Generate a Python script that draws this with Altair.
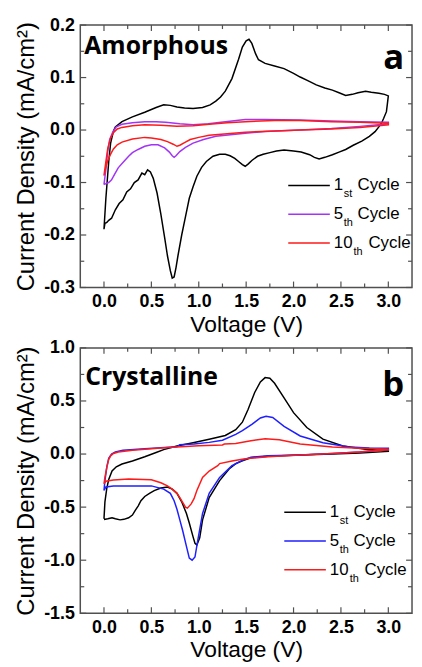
import altair as alt
import pandas as pd

# ---------------- Panel a (Amorphous) ----------------
a1_v = [0.00, 0.02, 0.05, 0.07, 0.10, 0.12, 0.19, 0.30, 0.43, 0.55, 0.63, 0.70, 0.77, 0.85, 0.94, 1.04, 1.12, 1.18,
        1.23, 1.28, 1.35, 1.42, 1.46, 1.50, 1.53, 1.56, 1.60, 1.63, 1.70, 1.80, 1.90, 2.00, 2.07, 2.15, 2.24, 2.33,
        2.41, 2.48, 2.55, 2.62, 2.68, 2.76, 2.82, 2.90, 2.96, 3.00,
        2.99, 2.98, 2.95, 2.93, 2.90, 2.86, 2.80, 2.72, 2.63, 2.55, 2.48, 2.41, 2.33, 2.27, 2.22, 2.17, 2.08, 2.00,
        1.90, 1.82, 1.75, 1.68, 1.62, 1.56, 1.52, 1.49, 1.46, 1.42, 1.38, 1.33, 1.28, 1.22, 1.15, 1.08, 1.03, 0.98,
        0.94, 0.90, 0.86, 0.82, 0.78, 0.76, 0.74, 0.72, 0.70, 0.67, 0.64, 0.60, 0.56, 0.52, 0.49, 0.46, 0.43, 0.40,
        0.36, 0.32, 0.28, 0.24, 0.20, 0.16, 0.12, 0.08, 0.05, 0.03, 0.01, 0.00]
a1_i = [-0.189, -0.130, -0.060, -0.025, -0.002, 0.006, 0.016, 0.025, 0.034, 0.043, 0.048, 0.047, 0.044, 0.042, 0.041,
        0.043, 0.048, 0.055, 0.063, 0.074, 0.098, 0.135, 0.158, 0.170, 0.173, 0.165, 0.145, 0.134, 0.127, 0.122, 0.117,
        0.108, 0.101, 0.094, 0.086, 0.080, 0.076, 0.071, 0.066, 0.068, 0.071, 0.074, 0.072, 0.070, 0.068, 0.065,
        0.050, 0.035, 0.022, 0.014, 0.006, -0.003, -0.012, -0.021, -0.029, -0.037, -0.042, -0.047, -0.052, -0.055,
        -0.052, -0.047, -0.042, -0.040, -0.038, -0.040, -0.043, -0.046, -0.050, -0.058, -0.065, -0.069, -0.066,
        -0.060, -0.054, -0.049, -0.046, -0.046, -0.050, -0.060, -0.071, -0.088, -0.108, -0.130, -0.165, -0.200,
        -0.240, -0.262, -0.280, -0.282, -0.268, -0.240, -0.205, -0.160, -0.120, -0.092, -0.080, -0.076, -0.085,
        -0.082, -0.095, -0.100, -0.112, -0.118, -0.133, -0.140, -0.152, -0.168, -0.172, -0.176, -0.178, -0.189]

a5_v = [0.00, 0.02, 0.04, 0.06, 0.09, 0.13, 0.19, 0.30, 0.43, 0.55, 0.65, 0.80, 0.94, 1.10, 1.28, 1.49, 1.70, 2.07,
        2.40, 2.70, 3.00,
        3.00, 2.70, 2.40, 2.07, 1.70, 1.49, 1.18, 1.05, 0.94, 0.86, 0.80, 0.76, 0.74, 0.72, 0.69, 0.64, 0.57, 0.50,
        0.43, 0.36, 0.30, 0.26, 0.20, 0.15, 0.11, 0.08, 0.05, 0.02, 0.00]
a5_i = [-0.104, -0.075, -0.040, -0.018, -0.005, 0.006, 0.011, 0.014, 0.016, 0.016, 0.015, 0.012, 0.010, 0.012, 0.016,
        0.020, 0.020, 0.019, 0.017, 0.016, 0.015,
        0.012, 0.007, 0.003, 0.000, -0.003, -0.006, -0.012, -0.018, -0.025, -0.033, -0.041, -0.049, -0.052, -0.049,
        -0.042, -0.034, -0.028, -0.028, -0.031, -0.037, -0.043, -0.050, -0.062, -0.072, -0.085, -0.095, -0.100,
        -0.102, -0.104]

a10_v = [0.00, 0.02, 0.04, 0.07, 0.10, 0.14, 0.19, 0.30, 0.43, 0.60, 0.77, 0.94, 1.11, 1.30, 1.49, 1.80, 2.07, 2.40,
         2.70, 3.00,
         3.00, 2.70, 2.40, 2.07, 1.80, 1.49, 1.11, 1.00, 0.91, 0.85, 0.80, 0.77, 0.73, 0.67, 0.60, 0.50, 0.43, 0.30,
         0.19, 0.14, 0.10, 0.07, 0.04, 0.02, 0.00]
a10_i = [-0.087, -0.060, -0.035, -0.015, -0.005, 0.002, 0.005, 0.008, 0.010, 0.009, 0.007, 0.008, 0.011, 0.014,
         0.016, 0.018, 0.018, 0.016, 0.015, 0.013,
         0.010, 0.005, 0.002, 0.000, -0.002, -0.004, -0.010, -0.014, -0.018, -0.024, -0.029, -0.031, -0.027, -0.022,
         -0.018, -0.015, -0.014, -0.017, -0.023, -0.028, -0.036, -0.046, -0.058, -0.070, -0.087]

# ---------------- Panel b (Crystalline) ----------------
b1_v = [0.00, 0.01, 0.03, 0.05, 0.085, 0.13, 0.19, 0.30, 0.43, 0.55, 0.63, 0.77, 0.94, 1.11, 1.28, 1.39, 1.46, 1.52,
        1.59, 1.65, 1.70, 1.75, 1.80, 1.90, 2.00, 2.14, 2.31, 2.52, 2.76, 3.00,
        3.00, 2.70, 2.41, 2.07, 1.73, 1.55, 1.46, 1.39, 1.32, 1.22, 1.11, 1.04, 1.01, 0.98, 0.96, 0.94, 0.90, 0.87,
        0.82, 0.77, 0.72, 0.67, 0.60, 0.53, 0.48, 0.43, 0.39, 0.36, 0.33, 0.30, 0.26, 0.21, 0.17, 0.12, 0.085, 0.04,
        0.00]
b1_i = [-0.610, -0.450, -0.320, -0.240, -0.160, -0.120, -0.094, -0.065, -0.025, 0.015, 0.042, 0.076, 0.107, 0.140,
        0.175, 0.230, 0.300, 0.420, 0.580, 0.680, 0.720, 0.715, 0.667, 0.530, 0.390, 0.250, 0.140, 0.076, 0.046, 0.030,
        0.025, 0.010, 0.000, -0.010, -0.020, -0.035, -0.063, -0.090, -0.140, -0.250, -0.410, -0.620, -0.790, -0.856,
        -0.840, -0.780, -0.650, -0.560, -0.450, -0.370, -0.330, -0.310, -0.320, -0.345, -0.370, -0.400, -0.440,
        -0.490, -0.530, -0.575, -0.600, -0.615, -0.620, -0.610, -0.600, -0.610, -0.617]

b5_v = [0.00, 0.01, 0.03, 0.05, 0.08, 0.12, 0.20, 0.43, 0.60, 0.77, 0.80, 0.95, 1.11, 1.25, 1.39, 1.46, 1.56, 1.65,
        1.71, 1.78, 1.90, 2.07, 2.31, 2.59, 2.80, 3.00,
        3.00, 2.70, 2.41, 2.07, 1.73, 1.55, 1.46, 1.35, 1.22, 1.11, 1.04, 0.99, 0.96, 0.93, 0.90, 0.87, 0.83, 0.80,
        0.77, 0.74, 0.70, 0.63, 0.50, 0.26, 0.10, 0.02, 0.00]
b5_i = [-0.343, -0.250, -0.120, -0.040, 0.000, 0.020, 0.035, 0.050, 0.060, 0.068, 0.088, 0.095, 0.110, 0.130, 0.185,
        0.220, 0.280, 0.340, 0.356, 0.345, 0.260, 0.170, 0.107, 0.067, 0.058, 0.055,
        0.045, 0.020, 0.005, -0.008, -0.017, -0.030, -0.060, -0.110, -0.220, -0.370, -0.560, -0.810, -0.970, -1.000,
        -0.980, -0.870, -0.720, -0.620, -0.520, -0.440, -0.370, -0.330, -0.300, -0.300, -0.300, -0.310, -0.343]

b10_v = [0.00, 0.01, 0.03, 0.05, 0.07, 0.10, 0.15, 0.30, 0.43, 0.60, 0.77, 1.00, 1.25, 1.27, 1.39, 1.55, 1.70, 1.85,
         2.07, 2.41, 2.70, 3.00,
         3.00, 2.70, 2.41, 2.07, 1.73, 1.49, 1.35, 1.22, 1.20, 1.11, 1.04, 0.98, 0.95, 0.92, 0.88, 0.86, 0.84, 0.80,
         0.77, 0.72, 0.67, 0.60, 0.50, 0.26, 0.10, 0.02, 0.00]
b10_i = [-0.280, -0.220, -0.126, -0.050, -0.017, 0.005, 0.020, 0.035, 0.045, 0.057, 0.067, 0.078, 0.086, 0.095, 0.100,
         0.125, 0.145, 0.135, 0.095, 0.067, 0.055, 0.046,
         0.040, 0.020, 0.005, -0.008, -0.025, -0.045, -0.065, -0.090, -0.110, -0.160, -0.220, -0.343, -0.420, -0.470,
         -0.510, -0.500, -0.470, -0.410, -0.370, -0.330, -0.300, -0.270, -0.243, -0.234, -0.245, -0.256, -0.280]

cycles = ["1st", "5th", "10th"]
cycle_num = ["1", "5", "10"]
cycle_sub = ["st", "th", "th"]
colors_a = ["#000000", "#A234F5", "#FF1A1A"]
colors_b = ["#000000", "#1F1FFF", "#FF1A1A"]

x_major = [0.0, 0.5, 1.0, 1.5, 2.0, 2.5, 3.0]
x_minor = [0.25, 0.75, 1.25, 1.75, 2.25, 2.75]
ya_major = [-0.3, -0.2, -0.1, 0.0, 0.1, 0.2]
ya_minor = [-0.25, -0.15, -0.05, 0.05, 0.15]
yb_major = [-1.5, -1.0, -0.5, 0.0, 0.5, 1.0]
yb_minor = [-1.25, -0.75, -0.25, 0.25, 0.75]


def make_df(series):
    rows = []
    for name, (vs, cs) in zip(cycles, series):
        for k, (v, c) in enumerate(zip(vs, cs)):
            rows.append({"V": v, "I": c, "cycle": name, "k": k})
    return pd.DataFrame(rows)


df_a = make_df([(a1_v, a1_i), (a5_v, a5_i), (a10_v, a10_i)])
df_b = make_df([(b1_v, b1_i), (b5_v, b5_i), (b10_v, b10_i)])

W = 335
LABEL_EXPR = "datum.value < 0 ? '-' + format(-datum.value, '.1f') : format(datum.value, '.1f')"
TICK_COLOR = "#505050"


def panel(df, colors, ydom, ymajor, yminor, H, name, letter, name_x, name_y, letter_y, leg_x0, leg_y0):
    xs = alt.Scale(domain=[-0.25, 3.25], nice=False, zero=False)
    ys = alt.Scale(domain=ydom, nice=False, zero=False)
    x_axis = alt.Axis(orient="bottom", values=x_major, labelExpr=LABEL_EXPR, ticks=False, domain=False,
                      grid=False, labelPadding=5, title="Voltage (V)", titlePadding=3, titleFontSize=23)
    y_axis = alt.Axis(orient="left", values=ymajor, labelExpr=LABEL_EXPR, ticks=False, domain=False,
                      grid=False, labelPadding=6, title="Current Density (mA/cm²)", titlePadding=5,
                      titleFontSize=24)

    def xenc(field):
        return alt.X(field, type="quantitative", scale=xs, axis=x_axis)

    def yenc(field):
        return alt.Y(field, type="quantitative", scale=ys, axis=y_axis)

    lines = alt.Chart(df).mark_line(strokeWidth=1.5, clip=True).encode(
        x=xenc("V"), y=yenc("I"),
        color=alt.Color("cycle:N", scale=alt.Scale(domain=cycles, range=colors), legend=None),
        order="k:Q",
    )
    layers = [lines]
    # inside tick marks on all four sides, drawn from the tick value lists
    for vals_x, vals_y, L in ((x_major, ymajor, 6), (x_minor, yminor, 4)):
        dx = pd.DataFrame({"v": vals_x})
        dy = pd.DataFrame({"v": vals_y})
        for y0, y1 in ((H, H - L), (0, L)):
            layers.append(alt.Chart(dx).mark_rule(color=TICK_COLOR, strokeWidth=1.2).encode(
                x=xenc("v"), y=alt.value(y0), y2=alt.value(y1)))
        for x0, x1 in ((0, L), (W, W - L)):
            layers.append(alt.Chart(dy).mark_rule(color=TICK_COLOR, strokeWidth=1.2).encode(
                y=yenc("v"), x=alt.value(x0), x2=alt.value(x1)))
    layers.append(alt.Chart(pd.DataFrame({"t": [name]})).mark_text(
        font="Open Sans", fontWeight="bold", fontSize=25, align="left", baseline="alphabetic", color="black"
    ).encode(text="t:N", x=alt.value(name_x), y=alt.value(name_y)))
    layers.append(alt.Chart(pd.DataFrame({"t": [letter]})).mark_text(
        font="Open Sans", fontWeight="bold", fontSize=35, align="right", baseline="alphabetic", color="black"
    ).encode(text="t:N", x=alt.value(W - 8), y=alt.value(letter_y)))
    for r in range(3):
        yy = leg_y0 + 29 * r
        single = len(cycle_num[r]) == 1
        layers.append(alt.Chart(pd.DataFrame({"t": [cycles[r]]})).mark_rule(strokeWidth=1.5).encode(
            x=alt.value(leg_x0), x2=alt.value(leg_x0 + 42), y=alt.value(yy), color=alt.value(colors[r])))
        layers.append(alt.Chart(pd.DataFrame({"t": [cycle_num[r]]})).mark_text(
            font="Liberation Sans", fontSize=17, align="left", baseline="middle", color="black"
        ).encode(text="t:N", x=alt.value(leg_x0 + 46), y=alt.value(yy)))
        layers.append(alt.Chart(pd.DataFrame({"t": [cycle_sub[r]]})).mark_text(
            font="Liberation Sans", fontSize=11, align="left", baseline="middle", color="black"
        ).encode(text="t:N", x=alt.value(leg_x0 + (56 if single else 66)), y=alt.value(yy + 9)))
        layers.append(alt.Chart(pd.DataFrame({"t": ["Cycle"]})).mark_text(
            font="Liberation Sans", fontSize=17, align="left", baseline="middle", color="black"
        ).encode(text="t:N", x=alt.value(leg_x0 + (70 if single else 81)), y=alt.value(yy)))
    return alt.layer(*layers).properties(width=W, height=H)


pa = panel(df_a, colors_a, [-0.3, 0.2], ya_major, ya_minor, 265, "Amorphous", "a", 4, 29, 44, 210, 162)
pb = panel(df_b, colors_b, [-1.5, 1.0], yb_major, yb_minor, 268, "Crystalline", "b", 5, 37, 49, 206, 166)

chart = alt.vconcat(pa, pb, spacing=1).resolve_scale(color="independent").properties(
    padding={"left": 6, "top": 4, "right": 0, "bottom": 0}
).configure_view(
    stroke="#505050", strokeWidth=1.5
).configure_axis(
    labelFont="Liberation Sans", labelFontWeight="bold", labelFontSize=18, labelColor="black",
    titleFont="Liberation Sans", titleFontWeight="normal", titleColor="black"
)

chart.save("out.html", embed_options={"renderer": "svg", "actions": False})
